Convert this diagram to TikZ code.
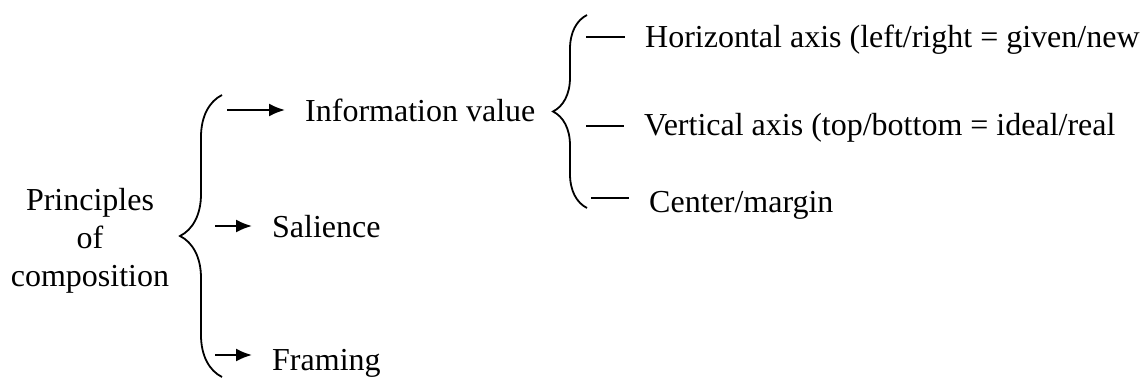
\documentclass[tikz,border=0pt]{standalone}
\usepackage{fontspec}
\setmainfont{Liberation Serif}
\usetikzlibrary{positioning, arrows.meta, decorations.pathreplacing}
\tikzset{
  noborder/.style={draw=none, inner xsep=20pt, inner ysep=0pt, anchor=base west,
    font=\fontsize{32}{38}\selectfont},
  curly/.style={decorate, decoration={brace, amplitude=#1}, line width=1.8pt},
  toarrow/.style={-{Latex[length=16pt,width=13pt]}, line width=2pt},
  dashline/.style={line width=1.8pt}
}

\begin{document}
\begin{tikzpicture}[x=1pt,y=1pt]
\useasboundingbox (0,0) rectangle (1144,-391);

\node [noborder, anchor=center, align=center, inner xsep=0pt] (pc) at (90,-241) {Principles\\of\\composition};

\coordinate (b1bot) at (222,-377);
\coordinate (b1top) at (222,-95);
\draw[curly=42pt] (b1bot) -- (b1top);

\node [noborder] (info) at (285,-121) {Information value};
\node [noborder] (sal) at (252,-237) {Salience};
\node [noborder] (fram) at (252,-370) {Framing};

\coordinate (a1) at (227,-110);
\coordinate (a2) at (215,-226);
\coordinate (a3) at (215,-355);
\draw[toarrow] (a1) -- (a1 -| info.west);
\draw[toarrow] (a2) -- (a2 -| sal.west);
\draw[toarrow] (a3) -- (a3 -| fram.west);

\coordinate (b2bot) at (587,-208);
\coordinate (b2top) at (587,-15);
\draw[curly=34pt] (b2bot) -- (b2top);

\node [noborder] (hor) at (625,-47) {Horizontal axis (left/right = given/new};
\node [noborder] (ver) at (624,-135) {Vertical axis (top/bottom = ideal/real};
\node [noborder] (cen) at (629,-212) {Center/margin};

\coordinate (d1) at (586,-37);
\coordinate (d2) at (586,-126);
\coordinate (d3) at (591,-198);
\draw[dashline] (d1) -- (d1 -| hor.west);
\draw[dashline] (d2) -- (d2 -| ver.west);
\draw[dashline] (d3) -- (d3 -| cen.west);

\end{tikzpicture}
\end{document}
